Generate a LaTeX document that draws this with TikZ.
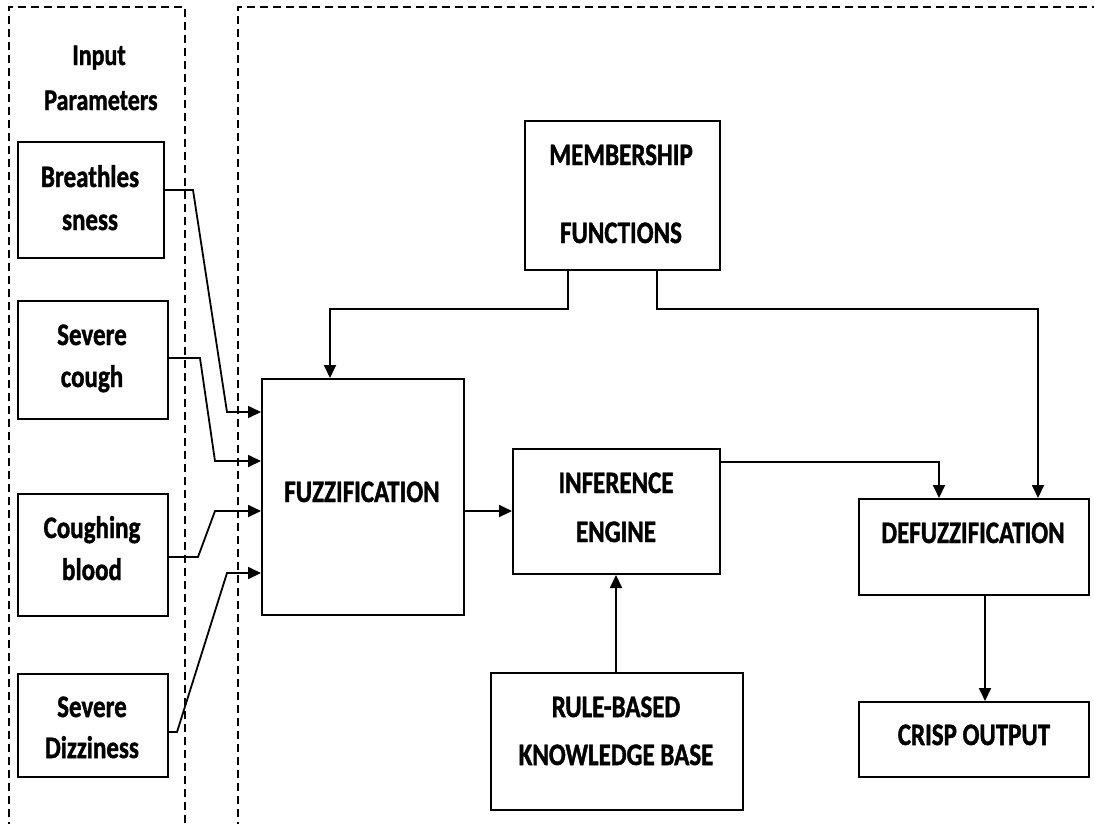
\documentclass[tikz,border=0pt]{standalone}
\usepackage{fontspec}
\setmainfont{Carlito}[BoldFeatures={FakeBold=1.5}]
\usetikzlibrary{arrows.meta,calc}
\newcommand{\tl}[1]{\scalebox{1}[1.25]{#1}}
\begin{document}
\begin{tikzpicture}[x=1pt,y=-1pt,
  boxnode/.style={draw,line width=2pt,rectangle,inner sep=0pt,anchor=north west},
  lbl/.style={anchor=base,inner sep=0pt,font=\fontsize{25}{30}\selectfont\bfseries},
  conn/.style={line width=1.8pt,-{Triangle[length=13pt,width=12pt]}},
  dashbox/.style={line width=1.6pt,dash pattern=on 8pt off 5pt}]
\useasboundingbox (0,0) rectangle (1094,823);
% dashed frames
\draw[dashbox] (9,830) -- (9,7) -- (185,7) -- (185,830);
\draw[dashbox] (238,830) -- (238,7) -- (1100,7);
% title
\node[lbl,font=\fontsize{24}{30}\selectfont\bfseries] (tin) at (99,65) {\tl{Input}};
\node[lbl,font=\fontsize{24}{30}\selectfont\bfseries] (tpar) at (101,110) {\tl{Parameters}};
% input boxes
\node[boxnode,minimum width=146pt,minimum height=116pt] (breath) at (17,141) {};
\node[lbl] (t1a) at (90,187) {\tl{Breathles}};
\node[lbl] (t1b) at (90,230) {\tl{sness}};
\node[boxnode,minimum width=150pt,minimum height=118pt] (cough) at (17,300) {};
\node[lbl] (t2a) at (92,345) {\tl{Severe}};
\node[lbl] (t2b) at (92,387) {\tl{cough}};
\node[boxnode,minimum width=150pt,minimum height=122pt] (blood) at (17,493) {};
\node[lbl] (t3a) at (92,538) {\tl{Coughing}};
\node[lbl] (t3b) at (92,580) {\tl{blood}};
\node[boxnode,minimum width=150pt,minimum height=103pt] (dizz) at (17,673) {};
\node[lbl] (t4a) at (92,717) {\tl{Severe}};
\node[lbl] (t4b) at (92,758) {\tl{Dizziness}};
% main boxes
\node[boxnode,minimum width=202pt,minimum height=236pt] (fuzz) at (261,378) {};
\node[lbl] (tf) at (362,502) {\tl{FUZZIFICATION}};
\node[boxnode,minimum width=195pt,minimum height=149pt] (memb) at (524,120) {};
\node[lbl] (tm1) at (621,165) {\tl{MEMBERSHIP}};
\node[lbl] (tm2) at (621,243) {\tl{FUNCTIONS}};
\node[boxnode,minimum width=207pt,minimum height=125pt] (infer) at (512,448) {};
\node[lbl] (ti1) at (616,493) {\tl{INFERENCE}};
\node[lbl] (ti2) at (616,542) {\tl{ENGINE}};
\node[boxnode,minimum width=230pt,minimum height=96pt] (defz) at (858,498) {};
\node[lbl] (td) at (973,543) {\tl{DEFUZZIFICATION}};
\node[boxnode,minimum width=230pt,minimum height=75pt] (crisp) at (858,701) {};
\node[lbl] (tc) at (974,745) {\tl{CRISP OUTPUT}};
\node[boxnode,minimum width=252pt,minimum height=137pt] (rule) at (490,672) {};
\node[lbl] (tr1) at (616,717) {\tl{RULE-BASED}};
\node[lbl] (tr2) at (616,765) {\tl{KNOWLEDGE BASE}};
% input connectors
\draw[conn] (breath.east |- 193,190) -- (193,190) -- (227,412) -- (fuzz.west |- 227,412);
\draw[conn] (cough.east |- 200,358) -- (200,358) -- (215,461) -- (fuzz.west |- 215,461);
\draw[conn] (blood.east |- 198,557) -- (198,557) -- (215,511) -- (fuzz.west |- 215,511);
\draw[conn] (dizz.east |- 177,732) -- (177,732) -- (227,573) -- (fuzz.west |- 227,573);
% main connectors
\draw[conn] (fuzz.east |- 0,511) -- (infer.west |- 0,511);
\draw[conn] (memb.south -| 568,0) -- (568,309) -- (330,309) -- (fuzz.north -| 330,0);
\draw[conn] (memb.south -| 657,0) -- (657,309) -- (1038,309) -- (defz.north -| 1038,0);
\draw[conn] (infer.east |- 0,462) -- (939,462) -- (defz.north -| 939,0);
\draw[conn] (defz.south -| 985,0) -- (crisp.north -| 985,0);
\draw[conn] (rule.north -| 616,0) -- (infer.south -| 616,0);
\end{tikzpicture}
\end{document}
